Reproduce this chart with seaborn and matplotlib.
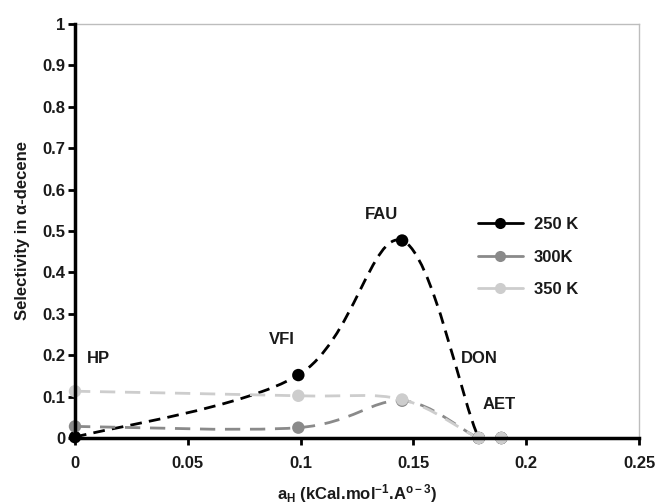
import numpy as np
import pandas as pd
import seaborn as sns
import matplotlib
matplotlib.use("Agg")
import matplotlib.pyplot as plt
from matplotlib.path import Path
from matplotlib.patches import PathPatch
from matplotlib.lines import Line2D

# ---- data ----
zeolites = ["HP", "VFI", "FAU", "DON", "AET"]
a_h = [0.0, 0.099, 0.145, 0.179, 0.189]
sel_250 = [0.002, 0.152, 0.477, 0.0, 0.0]
sel_300 = [0.028, 0.025, 0.090, 0.0, 0.0]
sel_350 = [0.113, 0.102, 0.093, 0.0, 0.0]
series_names = ["250 K", "300K", "350 K"]
label_x = [0.0102, 0.0915, 0.136, 0.179, 0.188]
label_y = [0.193, 0.239, 0.539, 0.193, 0.081]
x_ticks = [0, 0.05, 0.1, 0.15, 0.2, 0.25]
x_ticklabels = ["0", "0.05", "0.1", "0.15", "0.2", "0.25"]
y_ticks = [0, 0.1, 0.2, 0.3, 0.4, 0.5, 0.6, 0.7, 0.8, 0.9, 1.0]
y_ticklabels = ["0", "0.1", "0.2", "0.3", "0.4", "0.5", "0.6", "0.7", "0.8", "0.9", "1"]

colors = {"250 K": "#000000", "300K": "#8a8a8a", "350 K": "#cdcdcd"}
dash_pat = {"250 K": (4.2, 2.6), "300K": (5.5, 3.5), "350 K": (5.5, 3.5)}
FS = 12

sns.set_theme(style="white")
plt.rcParams["font.family"] = ["Liberation Sans", "DejaVu Sans"]
plt.rcParams["mathtext.default"] = "regular"

df = pd.DataFrame({
    "a_h": a_h * 3,
    "sel": sel_250 + sel_300 + sel_350,
    "series": [series_names[0]] * 5 + [series_names[1]] * 5 + [series_names[2]] * 5,
})

fig = plt.figure(figsize=(6.58, 5.04), dpi=100)
ax = fig.add_axes([75 / 658, 66 / 504, 564 / 658, 414 / 504])


def smooth_path(xs, ys):
    pts = np.column_stack([xs, ys])
    n = len(pts)
    verts = [pts[0]]
    codes = [Path.MOVETO]
    for i in range(n - 1):
        p_prev = pts[max(i - 1, 0)]
        p0 = pts[i]
        p1 = pts[i + 1]
        p_next = pts[min(i + 2, n - 1)]
        c1 = p0 + (p1 - p_prev) / 6.0
        c2 = p1 - (p_next - p0) / 6.0
        verts += [c1, c2, p1]
        codes += [Path.CURVE4] * 3
    return Path(verts, codes)


for name in series_names:
    sub = df[df["series"] == name]
    patch = PathPatch(smooth_path(sub["a_h"].values, sub["sel"].values),
                      facecolor="none", edgecolor=colors[name], lw=2.0,
                      linestyle=(0, dash_pat[name]), capstyle="butt", zorder=3)
    ax.add_patch(patch)

sns.scatterplot(data=df, x="a_h", y="sel", hue="series", palette=colors,
                hue_order=series_names, s=80, edgecolor="none", legend=False,
                ax=ax, zorder=4, clip_on=False)

for name, lx, ly in zip(zeolites, label_x, label_y):
    ax.text(lx, ly, name, ha="center", va="center", fontsize=FS,
            fontweight="bold", color="#1a1a1a")

ax.set_xlim(0, 0.25)
ax.set_ylim(0, 1)
ax.set_xticks(x_ticks)
ax.set_xticklabels(x_ticklabels)
ax.set_yticks(y_ticks)
ax.set_yticklabels(y_ticklabels)
for lab in ax.get_xticklabels() + ax.get_yticklabels():
    lab.set_fontweight("bold")
    lab.set_fontsize(FS)
    lab.set_color("#1a1a1a")
ax.tick_params(axis="x", direction="out", length=5, width=2, pad=8,
               bottom=True, top=False, color="black")
ax.tick_params(axis="y", direction="out", length=5, width=2, pad=2,
               left=True, right=False, color="black")

for side in ["left", "bottom"]:
    ax.spines[side].set_color("black")
    ax.spines[side].set_linewidth(2.5)
    ax.spines[side].set_zorder(5)
for side in ["top", "right"]:
    ax.spines[side].set_color("#bdbdbd")
    ax.spines[side].set_linewidth(1.0)

ax.set_xlabel(r"a$_{H}$ (kCal.mol$^{-1}$.A$^{o-3}$)", fontsize=FS,
              fontweight="bold", color="#1a1a1a", labelpad=8)
ax.set_ylabel("Selectivity in α-decene", fontsize=FS, fontweight="bold",
              color="#1a1a1a", labelpad=9)

handles = [Line2D([], [], color=colors[n], lw=2, marker="o", markersize=8,
                  markeredgewidth=0) for n in series_names]
leg = ax.legend(handles, series_names, loc="center left",
                bbox_to_anchor=(0.1786, 0.437), bbox_transform=ax.transData,
                frameon=False, borderpad=0, borderaxespad=0,
                handlelength=2.7, handletextpad=0.65, labelspacing=1.05,
                prop={"weight": "bold", "size": FS})
for t in leg.get_texts():
    t.set_color("#1a1a1a")

fig.savefig("out.png", dpi=100)
